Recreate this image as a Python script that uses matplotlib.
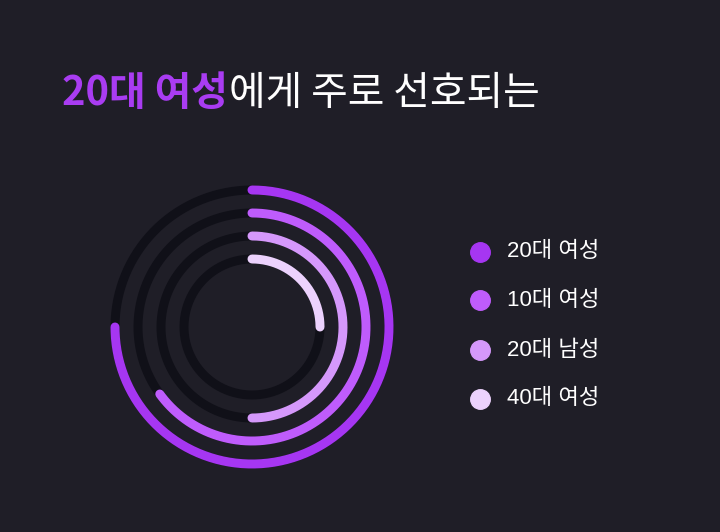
import numpy as np
import matplotlib
matplotlib.use("Agg")
import matplotlib.pyplot as plt
from matplotlib.lines import Line2D

categories = ['20대 여성', '10대 여성', '20대 남성', '40대 여성']
values = [75, 65, 50, 25]
colors = ['#a636f2', '#bf5cfc', '#d598fb', '#ecd2fd']
title_hl = '20대 여성'
title_rest = '에게 주로 선호되는'

BG = '#1f1e27'
TRACK = '#101018'
W, H = 720, 532
DPI = 100

fig = plt.figure(figsize=(W / DPI, H / DPI), dpi=DPI, facecolor=BG)

# polar axes: center (252, 327), 1 radial unit = 1 px
cx, cy, half = 252, 327, 150
ax = fig.add_axes([(cx - half) / W, (H - cy - half) / H, 2 * half / W, 2 * half / H],
                  projection='polar')
ax.set_facecolor('none')
ax.set_theta_zero_location('N')
ax.set_theta_direction(-1)
ax.set_ylim(0, half)
ax.axis('off')

lw = 9 * 72 / DPI
full = np.linspace(0, 2 * np.pi, 400)
for i, (v, c) in enumerate(zip(values, colors)):
    r = 137 - 23 * i
    ax.plot(full, np.full_like(full, r), color=TRACK, lw=lw, solid_capstyle='butt', zorder=1)
    th = np.linspace(0, 2 * np.pi * v / 100, 300)
    ax.plot(th, np.full_like(th, r), color=c, lw=lw, solid_capstyle='round', zorder=2)

# title
tfont = ['Noto Sans CJK KR', 'DejaVu Sans']
t1 = fig.text(62 / W, 1 - 105 / H, title_hl, color='#a93cf2', fontsize=28.7,
              fontweight='bold', family=tfont, va='baseline', ha='left')
fig.canvas.draw()
bb = t1.get_window_extent(renderer=fig.canvas.get_renderer())
fig.text(bb.x1 / W + 1 / W, 1 - 105 / H, title_rest, color='white', fontsize=28.7,
         family=tfont, va='baseline', ha='left')

# legend
lfont = ['Liberation Sans', 'Noto Sans CJK KR']
ys = [251.7, 300, 350, 399]
for lab, c, y in zip(categories, colors, ys):
    fig.add_artist(Line2D([480 / W], [1 - y / H], transform=fig.transFigure,
                          marker='o', markersize=19.5 * 72 / DPI, color=c, lw=0))
    fig.text(507 / W, 1 - y / H, lab, color='white', fontsize=16, family=lfont,
             va='center', ha='left')

fig.savefig('out.png', dpi=DPI, facecolor=BG)
